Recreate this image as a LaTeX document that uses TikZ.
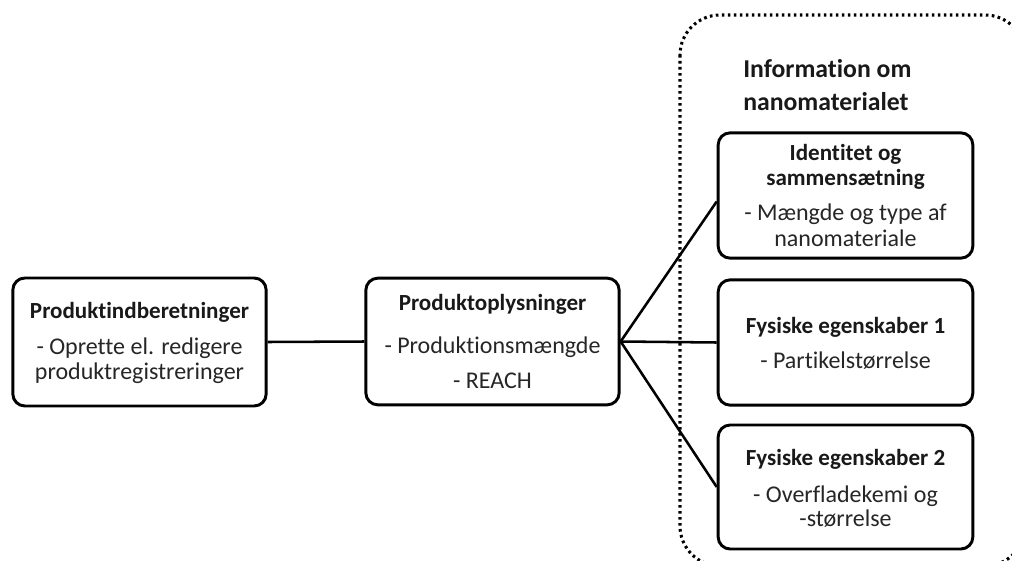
\documentclass[tikz,border=0pt]{standalone}
\usepackage{fontspec}
\setmainfont{Carlito}[Ligatures={NoCommon}]
\begin{document}
\begin{tikzpicture}[x=0.75pt,y=-0.75pt,
  boxstyle/.style={draw=black, line width=2.2pt, rounded corners=9pt, fill=white, inner sep=0pt},
  titletext/.style={anchor=base, inner sep=0pt, text=black!90, font=\fontsize{17.3}{20}\selectfont\bfseries},
  bodytext/.style={anchor=base, inner sep=0pt, text=black!85, font=\fontsize{18}{20}\selectfont},
  headtext/.style={anchor=base west, inner sep=0pt, text=black!90, font=\fontsize{19.3}{24}\selectfont\bfseries},
  link/.style={draw=black, line width=1.9pt},
  groupline/.style={draw=black, line width=2.3pt, dash pattern=on 2pt off 2.5pt, rounded corners=30pt}
]
\useasboundingbox (0,0) rectangle (1012,560);
\begin{scope}
\clip (0,0) rectangle (1012,560);
\draw[groupline] (680,15) rectangle (1025,566);
\end{scope}

% boxes
\node[boxstyle, minimum width=190pt, minimum height=96pt] (b1) at (139.5,342) {};
\node[boxstyle, minimum width=190pt, minimum height=95pt] (b2) at (492.5,341.5) {};
\node[boxstyle, minimum width=191pt, minimum height=94pt] (b3) at (845.5,195.5) {};
\node[boxstyle, minimum width=191pt, minimum height=94pt] (b4) at (845.5,342.5) {};
\node[boxstyle, minimum width=191pt, minimum height=93pt] (b5) at (845.5,487) {};

% connectors
\draw[link] (b1.east) -- (b2.west);
\coordinate (hub) at (b2.east);
\draw[link] (hub) -- ([yshift=-4.5pt]b3.west);
\draw[link] (hub) -- (b4.west);
\draw[link] (hub) -- (b5.west);

% heading
\node[headtext] (h1) at (743,78) {Information om};
\node[headtext] (h2) at (743,110) {nanomaterialet};

% box 1
\node[titletext] (t1a) at (139.5,318) {Produktindberetninger};
\node[bodytext] (t1b) at (139.5,354) {- Oprette el. redigere};
\node[bodytext] (t1c) at (139.5,379) {produktregistreringer};

% box 2
\node[titletext] (t2a) at (492.5,310) {Produktoplysninger};
\node[bodytext] (t2b) at (492.5,353) {- Produktionsmængde};
\node[bodytext] (t2c) at (492.5,388) {- REACH};

% box 3
\node[titletext] (t3a) at (845.5,160) {Identitet og};
\node[titletext] (t3b) at (845.5,185) {sammensætning};
\node[bodytext] (t3c) at (845.5,220) {- Mængde og type af};
\node[bodytext] (t3d) at (845.5,246) {nanomateriale};

% box 4
\node[titletext] (t4a) at (845.5,333) {Fysiske egenskaber 1};
\node[bodytext] (t4b) at (845.5,368) {- Partikelstørrelse};

% box 5
\node[titletext] (t5a) at (845.5,465) {Fysiske egenskaber 2};
\node[bodytext] (t5b) at (845.5,502) {- Overfladekemi og};
\node[bodytext] (t5c) at (845.5,526) {-størrelse};
\end{tikzpicture}
\end{document}
